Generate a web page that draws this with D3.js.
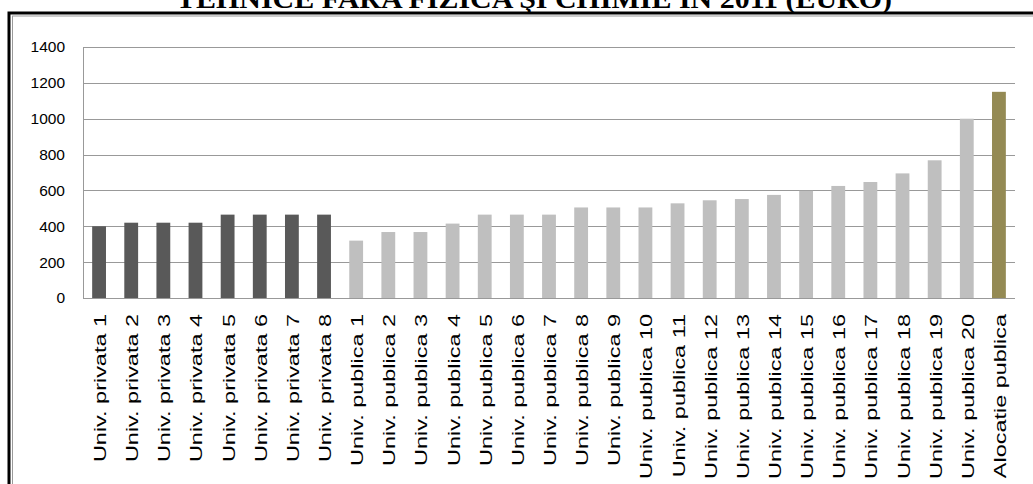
<!DOCTYPE html>
<html>
<head>
<meta charset="utf-8">
<script src="https://cdn.jsdelivr.net/npm/d3@7"></script>
<style>
  html, body { margin: 0; padding: 0; background: #fff; }
  svg { display: block; }
</style>
</head>
<body>
<svg id="chart" width="1033" height="484"></svg>
<script>
const titleText = "TEHNICE FARA FIZICA ŞI CHIMIE ÎN 2011 (EURO)";
const categories = [
  "Univ. privata 1","Univ. privata 2","Univ. privata 3","Univ. privata 4",
  "Univ. privata 5","Univ. privata 6","Univ. privata 7","Univ. privata 8",
  "Univ. publica 1","Univ. publica 2","Univ. publica 3","Univ. publica 4",
  "Univ. publica 5","Univ. publica 6","Univ. publica 7","Univ. publica 8",
  "Univ. publica 9","Univ. publica 10","Univ. publica 11","Univ. publica 12",
  "Univ. publica 13","Univ. publica 14","Univ. publica 15","Univ. publica 16",
  "Univ. publica 17","Univ. publica 18","Univ. publica 19","Univ. publica 20",
  "Alocatie publica"
];
const values = [
  400, 420, 420, 420, 465, 465, 465, 465,
  320, 368, 368, 415, 465, 465, 465, 505,
  505, 505, 528, 545, 552, 575, 598, 625,
  647, 695, 768, 1000,
  1150
];
const groups = [
  "privata","privata","privata","privata","privata","privata","privata","privata",
  "publica","publica","publica","publica","publica","publica","publica","publica",
  "publica","publica","publica","publica","publica","publica","publica","publica",
  "publica","publica","publica","publica",
  "alocatie"
];
const yTicks = [0, 200, 400, 600, 800, 1000, 1200, 1400];

const colors = { privata: "#595959", publica: "#bfbfbf", alocatie: "#948a54" };

const svg = d3.select("#chart");
const plotLeft = 83, plotRight = 1015, plotTop = 47, plotBottom = 298;

// outer frame
svg.append("rect").attr("x", 9).attr("y", 13).attr("width", 1100).attr("height", 600)
  .attr("fill", "none").attr("stroke", "#000").attr("stroke-width", 3);
svg.append("rect").attr("x", 12.5).attr("y", 16).attr("width", 1100).attr("height", 600)
  .attr("fill", "none").attr("stroke", "#9a9a9a").attr("stroke-width", 1);

// title (cut off at top, as in the reference)
svg.append("text")
  .attr("x", 534).attr("y", 8)
  .attr("text-anchor", "middle")
  .attr("font-family", "Liberation Serif, DejaVu Serif, serif")
  .attr("font-weight", "bold")
  .attr("font-size", 27)
  .attr("textLength", 716)
  .attr("lengthAdjust", "spacingAndGlyphs")
  .text(titleText);

const x = d3.scaleBand().domain(categories).range([plotLeft, plotRight]).paddingInner(0.57).paddingOuter(0.285);
const y = d3.scaleLinear().domain([0, 1400]).range([plotBottom, plotTop]);

// gridlines
svg.append("g")
  .attr("transform", `translate(${plotLeft},0)`)
  .call(d3.axisLeft(y).tickValues(yTicks).tickSize(-(plotRight - plotLeft)).tickFormat(""))
  .call(g => g.select(".domain").remove())
  .call(g => g.selectAll("line").attr("stroke", "#999").attr("stroke-width", 1)
    .attr("shape-rendering", "crispEdges"));

// y axis line
svg.append("line").attr("x1", plotLeft).attr("x2", plotLeft).attr("y1", plotTop).attr("y2", plotBottom)
  .attr("stroke", "#999").attr("shape-rendering", "crispEdges");

// bars
svg.append("g").selectAll("rect").data(categories).join("rect")
  .attr("x", d => x(d))
  .attr("width", x.bandwidth())
  .attr("y", (d, i) => y(values[i]))
  .attr("height", (d, i) => y(0) - y(values[i]))
  .attr("fill", (d, i) => colors[groups[i]]);

// y tick labels
const yAxis = svg.append("g")
  .attr("transform", `translate(${plotLeft},0)`)
  .call(d3.axisLeft(y).tickValues(yTicks).tickSize(0).tickPadding(18).tickFormat(d3.format("d")))
  .call(g => g.select(".domain").remove());
yAxis.selectAll("text")
  .attr("font-family", "Liberation Sans, Arial, sans-serif")
  .attr("font-size", 15.5)
  .attr("fill", "#000");

// x labels
const xAxis = svg.append("g")
  .attr("transform", `translate(0,${plotBottom})`)
  .call(d3.axisBottom(x).tickSize(0).tickPadding(0))
  .call(g => g.select(".domain").remove());
xAxis.selectAll("text")
  .attr("font-family", "Liberation Sans, Arial, sans-serif")
  .attr("font-size", 17)
  .attr("fill", "#000")
  .attr("text-anchor", "end")
  .attr("dy", null)
  .attr("y", 0)
  .attr("transform", "translate(7,16) rotate(-90) scale(1.38,1)");
</script>
</body>
</html>
